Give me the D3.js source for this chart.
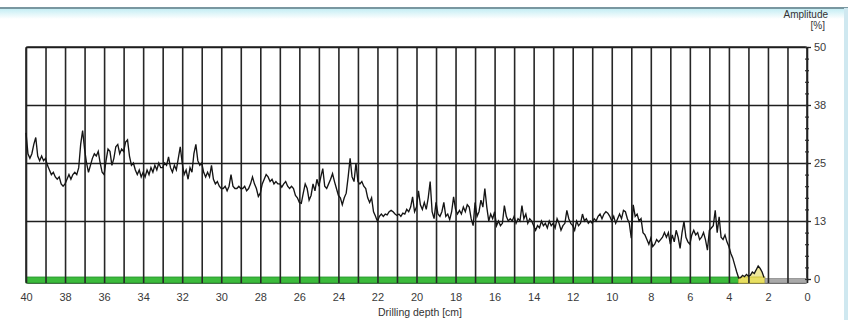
<!DOCTYPE html>
<html>
<head>
<meta charset="utf-8">
<script src="https://cdn.jsdelivr.net/npm/d3@7"></script>
<style>
    html, body { margin: 0; padding: 0; background: #fff; }
    svg { display: block; font-family: Arial, "Liberation Sans", sans-serif; }
</style>
</head>
<body>
<svg></svg>
<script>
// drilling depth of the first sample and the sampling step, in cm
const depthStart = 40;
const depthStep = 0.1;

// amplitude [%], one value per 0.1 cm from 40.0 down to 2.2
const amplitude = [
    31.5, 27, 26, 27, 29, 30.5, 26.5, 25.5, 26.5, 25.5,
    26, 24.5, 23.5, 22.5, 23, 22, 21.5, 22, 20.5, 20,
    20.5, 21.5, 22.5, 21.5, 22.5, 23, 22.5, 24, 29, 32,
    28, 25, 23, 24.5, 26, 27, 26.5, 27.5, 25, 23,
    22.5, 25.5, 28, 27.5, 24.5, 26, 28.5, 29, 27, 28,
    27.5, 29.5, 30, 26.5, 24.5, 25, 23.5, 22.5, 23.5, 22,
    23, 22, 23.5, 22.5, 24, 23, 24.5, 23.5, 25, 24,
    24, 25, 24.5, 26.3, 24, 23, 24.5, 23.5, 26, 28.5,
    25, 22.5, 23.5, 21.5, 24, 23, 27, 29, 25.5, 24.5,
    25, 23, 22, 23, 22, 24.5, 21.5, 20.5, 21, 20,
    19.5, 19.5, 20, 19, 20, 22.5, 20, 19.5, 19.5, 20,
    19.5, 19.5, 20, 19, 19.5, 20.5, 22, 20.5, 19.5, 17.8,
    18.5, 20.5, 21.5, 22.5, 22, 21, 21.5, 20.5, 21, 20.5,
    20.5, 19.8, 20.5, 21, 20, 19.5, 20, 19.5, 18, 17.5,
    16.5, 16.3, 18.5, 20.5, 19.5, 17, 18, 20.5, 19, 21.5,
    20, 22, 23.8, 20, 19.5, 20.5, 21.5, 22.7, 21, 19.5,
    18, 17.5, 16, 17.5, 18.5, 22, 26, 22, 21, 25,
    21, 20.5, 21, 20, 19.5, 17.5, 16.5, 17.5, 14.5, 13.5,
    12.4, 13.5, 14, 13.5, 14, 13.8, 14.5, 14.8, 14.5, 14,
    13.7, 14, 13.5, 14.2, 14, 15, 14.5, 15.5, 17.7, 14.5,
    15.5, 19, 16, 15, 16.5, 15, 17.5, 21, 14.5, 13,
    16.5, 14, 13.5, 14.5, 16.5, 13.5, 14, 12.8, 14.5, 17.7,
    15, 14, 14.8, 14, 15.5, 14.5, 16, 15.5, 13, 11.5,
    16.5, 13.5, 14.5, 17, 15.5, 19.5, 15.5, 12.5, 14, 13,
    14.5, 11.5, 12.5, 11.5, 12, 15.8, 13.5, 12.5, 13, 12.5,
    13.5, 12, 13, 12.5, 15.8, 13, 14, 12, 13, 12.5,
    11.5, 10.5, 11.5, 11, 12.5, 11.5, 12, 11, 12.5, 11.5,
    12, 11, 13, 12, 10.5, 11.5, 12, 14.8, 13, 12,
    11.5, 10.5, 12.5, 11.5, 12, 14, 12.5, 13, 12, 12.5,
    12, 13, 12.5, 13.5, 14, 13, 14, 14.5, 14.2, 13.5,
    12.5, 13.5, 12, 13, 14, 13, 14.8, 14.5, 13, 12,
    8.8, 16, 13.5, 14, 12.5, 13, 10, 9.5, 8.5, 7.5,
    8.8, 7, 7.5, 8.5, 8, 8.5, 9, 10, 9, 10,
    7.5, 9.5, 8, 10.5, 9, 6.6, 10, 12.4, 9, 8,
    7.5, 9.5, 10.5, 9.5, 10, 8.5, 9, 10, 8.5, 6.2,
    10.5, 11, 11.5, 14.8, 10, 13.4, 9, 8.5, 9.5, 8,
    7, 5.5, 4.5, 3, 1.5, 0.2, 0.3, 0.8, 0.5, 1,
    0.6, 0.8, 1.5, 1.2, 2, 2.8, 2.3, 1.5, 0.3,
];

// evaluation status along the depth axis: boundaries in cm and the state between them
const statusBreaks = [40, 3.5, 2.15, 0];
const statusNames = ["valid", "weak", "none"];

// axis ticks
const xTickValues = [40, 38, 36, 34, 32, 30, 28, 26, 24, 22, 20, 18, 16, 14, 12, 10, 8, 6, 4, 2, 0];
const yTickValues = [0, 12.5, 25, 37.5, 50];
const yTickLabels = ["0", "13", "25", "38", "50"];

class AmplitudeProfile {
    constructor(amplitude) {
        this.data = amplitude.map((a, i) => ({
            depth: depthStart - i * depthStep,
            amp: a,
        }));
        this.dimensions = this.createDimensions();
        this.xScale = this.createXScale();
        this.yScale = this.createYScale();

        this.drawPlot();
    }

    /**
     */
    createDimensions() {
        return {
            svgWidth: 848,
            svgHeight: 320,
            left: 26,
            right: 807,
            top: 47,
            bottom: 279,
            barTop: 277,
            barBottom: 283,
        };
    }

    /**
     */
    createXScale() {
        return d3
            .scaleLinear()
            .domain([40, 0])
            .range([this.dimensions.left, this.dimensions.right]);
    }

    /**
     */
    createYScale() {
        return d3
            .scaleLinear()
            .domain([0, 50])
            .range([this.dimensions.bottom, this.dimensions.top]);
    }

    /**
     */
    drawFrame(svg) {
        const dim = this.dimensions;

        const grad = svg
            .append("defs")
            .append("linearGradient")
            .attr("id", "frame-top")
            .attr("x1", 0)
            .attr("x2", 0)
            .attr("y1", 0)
            .attr("y2", 1);
        grad.append("stop").attr("offset", "0%").attr("stop-color", "#c6eef4");
        grad.append("stop").attr("offset", "100%").attr("stop-color", "#ffffff");

        svg.append("rect")
            .attr("width", dim.svgWidth)
            .attr("height", dim.svgHeight)
            .attr("fill", "#fff");

        svg.append("rect")
            .attr("x", 0)
            .attr("y", 9)
            .attr("width", dim.svgWidth)
            .attr("height", 10)
            .attr("fill", "url(#frame-top)");

        svg.append("line")
            .attr("x1", 0)
            .attr("x2", dim.svgWidth)
            .attr("y1", 8)
            .attr("y2", 8)
            .attr("stroke", "#4d7480")
            .attr("stroke-width", 1.5);

        svg.append("rect")
            .attr("x", 844)
            .attr("y", 8)
            .attr("width", 4)
            .attr("height", dim.svgHeight - 8)
            .attr("fill", "#cfe8f0");
    }

    /**
     */
    drawStatusBar(svg) {
        const dim = this.dimensions;
        const color = d3
            .scaleOrdinal()
            .domain(statusNames)
            .range(["#3cbb3c", "#e8df62", "#a9a9a9"]);
        const edge = d3
            .scaleOrdinal()
            .domain(statusNames)
            .range(["#23922a", "#c9bd3a", "#8c8c8c"]);

        const segments = statusNames.map((name, i) => ({
            name,
            from: statusBreaks[i],
            to: statusBreaks[i + 1],
        }));

        // area under the weak part of the trace
        const weak = this.data.filter(
            (d) => d.depth <= statusBreaks[1] + 1e-9 && d.depth >= statusBreaks[2],
        );
        svg.append("path")
            .datum(weak)
            .attr(
                "d",
                d3
                    .area()
                    .x((d) => this.xScale(d.depth))
                    .y0(dim.barBottom)
                    .y1((d) => this.yScale(d.amp)),
            )
            .attr("fill", "#efe89c");

        svg.selectAll(".status")
            .data(segments)
            .join("rect")
            .attr("class", "status")
            .attr("x", (d) => this.xScale(d.from))
            .attr("y", (d) => (d.name === "none" ? dim.barTop + 1.5 : dim.barTop))
            .attr("width", (d) => this.xScale(d.to) - this.xScale(d.from))
            .attr("height", (d) =>
                d.name === "none" ? dim.barBottom - dim.barTop - 1.5 : dim.barBottom - dim.barTop,
            )
            .attr("fill", (d) => color(d.name))
            .attr("stroke", (d) => edge(d.name))
            .attr("stroke-width", 0.8);
    }

    /**
     */
    drawGrid(svg) {
        const dim = this.dimensions;

        // vertical lines every centimetre
        svg.append("g")
            .attr("class", "x-grid")
            .attr("transform", `translate(0, ${dim.barBottom})`)
            .call(
                d3
                    .axisBottom(this.xScale)
                    .tickValues(d3.range(40, 0, -1))
                    .tickSize(-(dim.barBottom - dim.top))
                    .tickFormat(""),
            )
            .call((g) => g.select(".domain").remove())
            .call((g) =>
                g.selectAll("line").attr("stroke", "#262626").attr("stroke-width", 1.6),
            );

        // horizontal lines at the labelled amplitudes
        svg.append("g")
            .attr("class", "y-grid")
            .attr("transform", `translate(${dim.right}, 0)`)
            .call(
                d3
                    .axisRight(this.yScale)
                    .tickValues(yTickValues.slice(1))
                    .tickSize(-(dim.right - dim.left))
                    .tickFormat(""),
            )
            .call((g) => g.select(".domain").remove())
            .call((g) =>
                g.selectAll("line").attr("stroke", "#1e1e1e").attr("stroke-width", 1.3),
            );
    }

    /**
     */
    drawAxes(svg) {
        const dim = this.dimensions;

        // x labels
        const xAxis = svg
            .append("g")
            .attr("class", "x-axis")
            .attr("transform", `translate(0, ${dim.barBottom})`)
            .call(d3.axisBottom(this.xScale).tickValues(xTickValues).tickSize(0).tickPadding(10));
        xAxis.select(".domain").remove();
        xAxis
            .selectAll("text")
            .attr("font-size", 11)
            .attr("fill", "#3a3a3a")
            .attr("font-family", "Arial, 'Liberation Sans', sans-serif");

        // right amplitude axis with minor ticks
        svg.append("g")
            .attr("class", "y-minor")
            .attr("transform", `translate(${dim.right - 2}, 0)`)
            .call(
                d3
                    .axisRight(this.yScale)
                    .tickValues(d3.range(0, 50.01, 2.5))
                    .tickSize(4)
                    .tickFormat(""),
            )
            .call((g) => g.select(".domain").remove())
            .call((g) => g.selectAll("line").attr("stroke", "#333").attr("stroke-width", 1.2));

        const yAxis = svg
            .append("g")
            .attr("class", "y-axis")
            .attr("transform", `translate(${dim.right}, 0)`)
            .call(
                d3
                    .axisRight(this.yScale)
                    .tickValues(yTickValues)
                    .tickSize(4)
                    .tickPadding(3)
                    .tickFormat((d, i) => yTickLabels[i]),
            );
        yAxis.select(".domain").attr("stroke", "#222").attr("stroke-width", 1.6)
            .attr("d", `M0.5,${dim.top}V${dim.barBottom}`);
        yAxis.selectAll("line").attr("stroke", "#222").attr("stroke-width", 1.3);
        yAxis
            .selectAll("text")
            .attr("font-size", 11)
            .attr("fill", "#3a3a3a")
            .attr("font-family", "Arial, 'Liberation Sans', sans-serif");

        // titles
        svg.append("text")
            .attr("x", 420)
            .attr("y", 316)
            .attr("text-anchor", "middle")
            .attr("font-size", 10.5)
            .attr("fill", "#333")
            .text("Drilling depth [cm]");

        svg.append("text")
            .attr("x", 828)
            .attr("y", 18)
            .attr("text-anchor", "end")
            .attr("font-size", 10)
            .attr("fill", "#333")
            .text("Amplitude");

        svg.append("text")
            .attr("x", 825)
            .attr("y", 29)
            .attr("text-anchor", "end")
            .attr("font-size", 10)
            .attr("fill", "#333")
            .text("[%]");
    }

    /**
     */
    drawPlot() {
        const dim = this.dimensions;

        // size svg
        const svg = d3
            .select("svg")
            .attr("width", dim.svgWidth)
            .attr("height", dim.svgHeight);

        this.drawFrame(svg);

        // plot background and top border
        svg.append("rect")
            .attr("x", dim.left)
            .attr("y", dim.top)
            .attr("width", dim.right - dim.left)
            .attr("height", dim.barBottom - dim.top)
            .attr("fill", "#fff")
            .attr("stroke", "#262626")
            .attr("stroke-width", 1.6)
            .attr("rx", 2);

        this.drawStatusBar(svg);
        this.drawGrid(svg);

        // draw amplitude trace
        svg.append("path")
            .datum(this.data)
            .attr("class", "trace")
            .attr(
                "d",
                d3
                    .line()
                    .x((d) => this.xScale(d.depth))
                    .y((d) => this.yScale(d.amp)),
            )
            .attr("fill", "none")
            .attr("stroke", "#151515")
            .attr("stroke-width", 1.35)
            .attr("stroke-linejoin", "miter");

        this.drawAxes(svg);
    }
}

new AmplitudeProfile(amplitude);
</script>
</body>
</html>
